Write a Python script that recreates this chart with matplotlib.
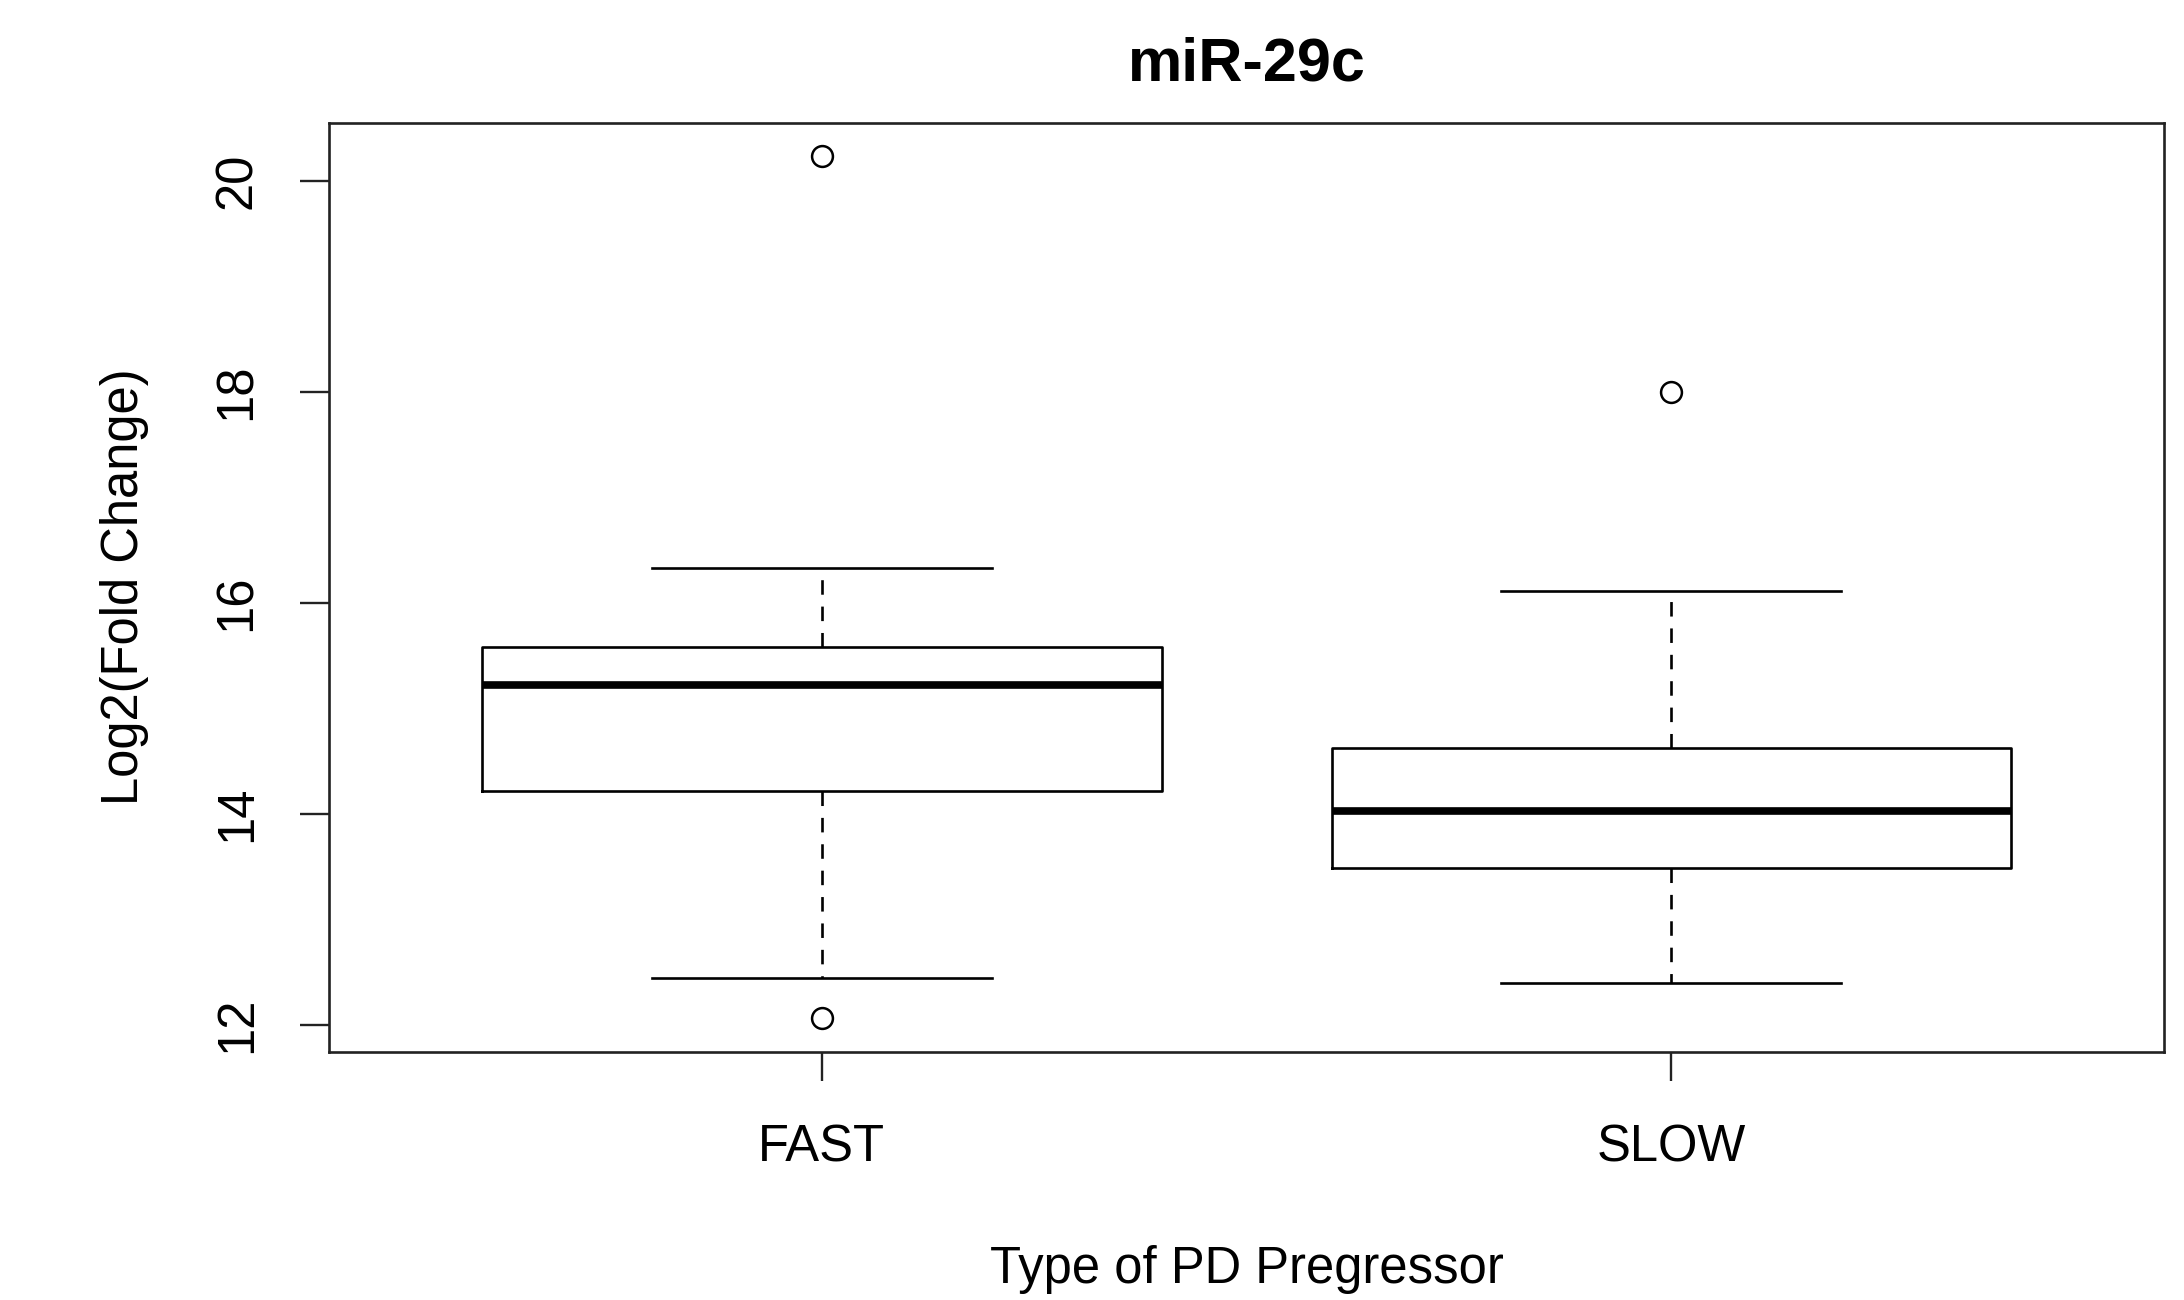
import matplotlib
matplotlib.use("Agg")
import matplotlib.pyplot as plt

plt.rcParams['font.family'] = ['Liberation Sans', 'DejaVu Sans']

categories = ["FAST", "SLOW"]
medians = [15.22, 14.03]
q1 = [14.22, 13.49]
q3 = [15.58, 14.63]
whisker_low = [12.45, 12.40]
whisker_high = [16.33, 16.12]
outliers = [[20.24, 12.07], [18.00]]
yticks = [12, 14, 16, 18, 20]

title = "miR-29c"
xlabel = "Type of PD Pregressor"
ylabel = "Log2(Fold Change)"

stats = []
for i, c in enumerate(categories):
    stats.append(dict(label=c, med=medians[i], q1=q1[i], q3=q3[i],
                      whislo=whisker_low[i], whishi=whisker_high[i],
                      fliers=outliers[i]))

fig = plt.figure(figsize=(21.84, 13.0), dpi=100)
ax = fig.add_axes([0.1505, 0.1911, 0.8405, 0.7146])

lw = 1.9
ax.bxp(stats, positions=[1, 2], widths=0.8, patch_artist=False,
       boxprops=dict(color='black', linewidth=lw),
       medianprops=dict(color='black', linewidth=5.5, solid_capstyle='butt'),
       whiskerprops=dict(color='black', linewidth=lw, linestyle=(0, (5.5, 4.5))),
       capprops=dict(color='black', linewidth=lw),
       capwidths=0.4,
       flierprops=dict(marker='o', markerfacecolor='none', markeredgecolor='black',
                       markersize=15, markeredgewidth=1.8))

ax.set_xlim(0.42, 2.58)
ax.set_ylim(11.75, 20.555)
ax.set_yticks(yticks)
ax.set_yticklabels([str(t) for t in yticks], rotation=90, va='center')
ax.set_xticks([1, 2])
ax.set_xticklabels(categories)

for s in ax.spines.values():
    s.set_linewidth(1.9)
    s.set_color('#222222')

ax.tick_params(axis='both', which='major', labelsize=36.5, length=21, width=1.7,
               color='#222222', direction='out')
ax.tick_params(axis='y', pad=27)
ax.tick_params(axis='x', pad=31)

ax.set_title(title, fontsize=44, fontweight='bold', pad=30)
ax.set_xlabel(xlabel, fontsize=36.5, labelpad=52)
ax.set_ylabel(ylabel, fontsize=36.5, labelpad=46)

fig.savefig("out.png", dpi=100, facecolor='white')
